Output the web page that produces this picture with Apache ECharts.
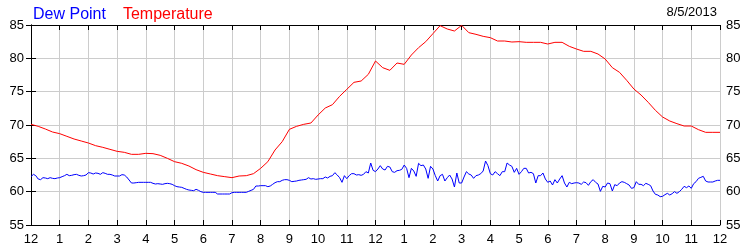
<!DOCTYPE html>
<html>
<head>
<meta charset="utf-8">
<script src="https://cdn.jsdelivr.net/npm/echarts@6/dist/echarts.min.js"></script>
<style>
html,body{margin:0;padding:0;background:#fff;}
#c{width:750px;height:250px;}
</style>
</head>
<body>
<div id="c"></div>
<script>
// Hour-of-day tick labels (0..24)
var hourLabels = ['12','1','2','3','4','5','6','7','8','9','10','11','12','1','2','3','4','5','6','7','8','9','10','11','12'];
var dateText = '8/5/2013';

// Temperature, every 15 minutes from 0:00 to 24:00 (°F)
var temperature = [
  70.1, 69.8, 69.4, 68.95, 68.7, 68.3, 67.9, 67.6, 67.3, 66.9, 66.65, 66.35, 66.05, 65.9, 65.6, 65.6,
  65.75, 65.7, 65.45, 65.0, 64.5, 64.25, 63.85, 63.3, 62.9, 62.65, 62.4, 62.25, 62.1, 62.35, 62.4, 62.7, 63.5,
  64.5, 66.25, 67.5, 69.35, 69.8, 70.1, 70.3, 71.5, 72.55, 73.05, 74.3, 75.35, 76.4, 76.6, 77.6, 79.6,
  78.6, 78.2, 79.3, 79.1, 80.5, 81.6, 82.5, 83.7, 84.9, 84.4, 84.1, 84.95, 83.85, 83.6, 83.3, 83.1,
  82.6, 82.6, 82.45, 82.5, 82.4, 82.4, 82.4, 82.15, 82.4, 82.4, 81.8, 81.4, 81.05, 81.05, 80.65, 79.9,
  78.6, 77.9, 76.7, 75.4, 74.5, 73.4, 72.2, 71.2, 70.6, 70.2, 69.85, 69.85, 69.3, 68.9, 68.9, 68.9
];

// Dew point, every 5 minutes from 0:00 to 24:00 (°F)
var dewPoint = [
  // 0:00 - 7:55
  62.25, 62.6, 62.4, 61.9, 61.8, 62.1, 62.05, 61.95, 62.1, 62.0, 61.95, 62.05,
  62.1, 62.25, 62.4, 62.6, 62.4, 62.45, 62.55, 62.6, 62.45, 62.35, 62.4, 62.5,
  62.85, 62.8, 62.65, 62.8, 62.75, 62.6, 62.85, 62.75, 62.6, 62.6, 62.5, 62.35,
  62.35, 62.35, 62.55, 62.5, 62.2, 61.75, 61.3, 61.3, 61.35, 61.4, 61.4, 61.4,
  61.4, 61.4, 61.4, 61.25, 61.15, 61.2, 61.15, 61.1, 61.2, 61.25, 61.2, 61.1,
  60.9, 60.75, 60.7, 60.65, 60.5, 60.35, 60.25, 60.2, 60.15, 60.35, 60.2, 60.0,
  59.9, 59.9, 59.9, 59.9, 59.9, 59.9, 59.65, 59.65, 59.65, 59.65, 59.65, 59.65,
  59.85, 59.9, 59.9, 59.9, 59.9, 59.9, 59.9, 60.05, 60.2, 60.35, 60.85, 60.85,
  // 8:00 - 13:30
  60.9, 60.9, 60.9, 60.75, 60.85, 61.1, 61.35, 61.5, 61.5, 61.7, 61.8, 61.8,
  61.7, 61.5, 61.55, 61.6, 61.7, 61.75, 61.8, 61.85, 62.1, 61.9, 61.95, 61.85,
  61.9, 61.95, 61.95, 62.2, 62.05, 62.3, 62.4, 62.85, 62.5, 62.1, 61.4, 62.4,
  61.95, 62.4, 62.7, 62.7, 62.5, 62.55, 62.45, 62.6, 63.0, 62.8, 64.3, 63.2,
  63.0, 63.4, 63.9, 63.4, 63.25, 63.8, 63.7, 63.0, 62.9, 63.15, 63.2, 63.35,
  64.0, 63.5, 62.1, 63.5, 63.1, 62.3, 64.25,
  // 13:35 - 18:50
  63.9, 64.0, 63.4, 62.0, 63.8, 63.4, 62.4, 61.6, 62.4, 62.6, 61.6, 62.1,
  62.5, 61.9, 60.7, 62.8, 61.3, 61.3, 62.2, 63.0, 62.65, 62.5, 62.0, 62.4,
  62.5, 62.7, 63.1, 64.6, 63.9, 62.7, 62.5, 63.0, 62.7, 62.4, 63.0, 63.0,
  64.3, 64.0, 63.8, 62.9, 63.5, 62.6, 63.0, 63.5, 63.5, 62.8, 62.9, 62.7,
  61.3, 62.4, 62.4, 62.8, 61.9, 61.4, 61.6, 61.0, 61.8, 61.3, 61.9, 62.4,
  61.3, 60.7, 61.4, 61.2,
  // 18:55 - 24:00
  61.3, 61.35, 61.3, 61.1, 61.45, 61.35, 60.95, 61.5, 61.8, 61.4, 61.15, 60.05,
  60.8, 60.7, 61.3, 61.2, 60.1, 61.05, 60.9, 61.3, 61.5, 61.4, 61.2, 61.0,
  60.5, 60.6, 61.5, 61.1, 61.1, 60.9, 61.25, 61.1, 60.9, 60.1, 59.6, 59.5,
  59.25, 59.3, 59.55, 59.75, 59.5, 59.7, 60.0, 59.75, 60.0, 60.35, 60.8, 60.6,
  60.85, 60.5, 61.2, 61.5, 62.0, 62.15, 62.3, 61.6, 61.45, 61.45, 61.45, 61.6,
  61.7, 61.7
];

var tempStep = 0.25;      // hours between temperature readings
var dewStep = 1 / 12;     // hours between dew point readings

var tempData = temperature.map(function (v, i) { return [i * tempStep, v]; });
var dewData = dewPoint.map(function (v, i) { return [i * dewStep, v]; });

var font = "'Liberation Sans', Arial, sans-serif";
var chart = echarts.init(document.getElementById('c'), null, { renderer: 'canvas' });

var axisLineStyle = { show: true, lineStyle: { color: '#000', width: 1 } };
var tickStyle = { show: true, inside: true, length: 5, lineStyle: { color: '#000', width: 1 } };
var gridLineStyle = { show: true, lineStyle: { color: '#cccccc', width: 1, type: 'solid' } };

chart.setOption({
  animation: false,
  backgroundColor: '#fff',
  textStyle: { fontFamily: font },
  grid: { left: 31, right: 30, top: 25, bottom: 25, containLabel: false },
  legend: {
    left: 28, top: 7,
    icon: 'none', itemWidth: 0, itemHeight: 0, itemGap: 12,
    padding: 0,
    selectedMode: false,
    textStyle: { fontSize: 16, fontFamily: font },
    data: [
      { name: 'Dew Point', textStyle: { color: '#0000ff' } },
      { name: 'Temperature', textStyle: { color: '#ff0000' } }
    ]
  },
  graphic: [{
    type: 'text', right: 33, top: 6,
    style: { text: dateText, fill: '#000', font: '13px ' + font }
  }],
  xAxis: [{
    type: 'value', min: 0, max: 24, interval: 1, position: 'bottom',
    axisLine: axisLineStyle, axisTick: tickStyle, splitLine: gridLineStyle,
    axisLabel: {
      color: '#000', fontSize: 13, margin: 8, fontFamily: font,
      formatter: function (v) { return hourLabels[Math.round(v)]; }
    }
  }, {
    type: 'value', min: 0, max: 24, interval: 1, position: 'top',
    axisLine: axisLineStyle, axisTick: tickStyle, splitLine: { show: false },
    axisLabel: { show: false }
  }],
  yAxis: [{
    type: 'value', min: 55, max: 85, interval: 5, position: 'left',
    axisLine: axisLineStyle, axisTick: tickStyle, splitLine: gridLineStyle,
    axisLabel: { color: '#000', fontSize: 13, margin: 7, fontFamily: font }
  }, {
    type: 'value', min: 55, max: 85, interval: 5, position: 'right',
    axisLine: axisLineStyle, axisTick: tickStyle, splitLine: { show: false },
    axisLabel: { color: '#000', fontSize: 13, margin: 6, fontFamily: font }
  }],
  series: [{
    name: 'Dew Point', type: 'line', data: dewData,
    xAxisIndex: 0, yAxisIndex: 0,
    showSymbol: false, symbol: 'none',
    lineStyle: { color: '#0000ff', width: 1 }, itemStyle: { color: '#0000ff' },
    z: 3
  }, {
    name: 'Temperature', type: 'line', data: tempData,
    xAxisIndex: 0, yAxisIndex: 0,
    showSymbol: false, symbol: 'none',
    lineStyle: { color: '#ff0000', width: 1 }, itemStyle: { color: '#ff0000' },
    z: 3
  }]
});
</script>
</body>
</html>
